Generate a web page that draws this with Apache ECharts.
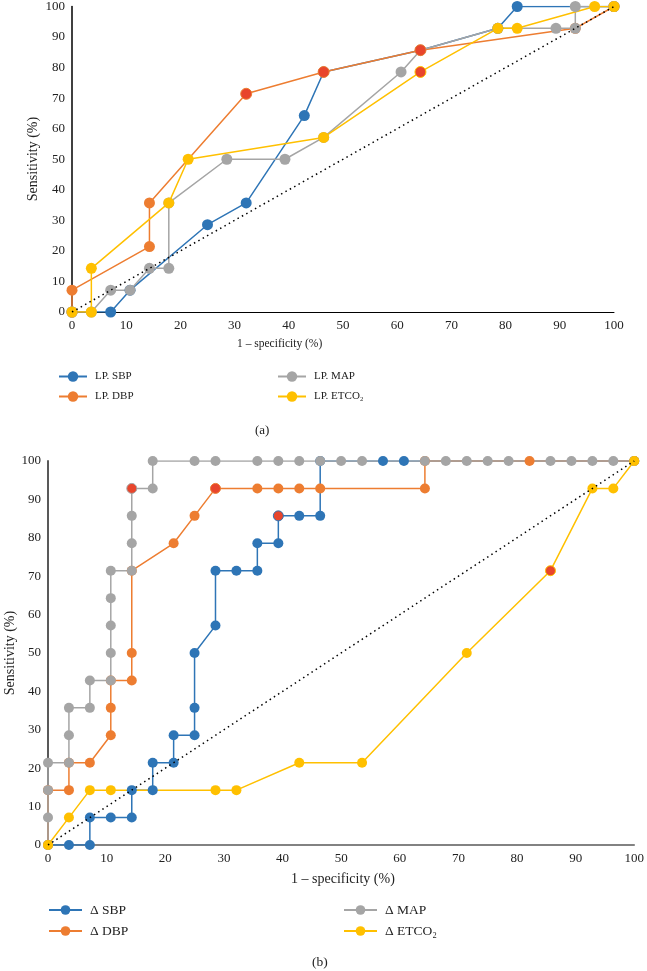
<!DOCTYPE html>
<html><head><meta charset="utf-8">
<script src="https://cdn.jsdelivr.net/npm/echarts/dist/echarts.min.js"></script>
<style>html,body{margin:0;padding:0;background:#fff}#c{width:647px;height:971px}</style>
</head><body><div id="c"></div>
<script>
// ---- Data (a) ----
const aSbpX = [0, 7.14, 10.71, 25, 32.14, 42.86, 46.43, 64.29, 78.57, 82.14, 100];
const aSbpY = [0, 0, 7.14, 28.57, 35.71, 64.29, 78.57, 85.71, 92.86, 100, 100];
const aDbpX = [0, 0, 14.29, 14.29, 32.14, 46.43, 64.29, 92.86, 100];
const aDbpY = [0, 7.14, 21.43, 35.71, 71.43, 78.57, 85.71, 92.86, 100];
const aMapX = [0, 3.57, 7.14, 10.71, 14.29, 17.86, 17.86, 28.57, 39.29, 46.43, 60.71, 64.29, 78.57, 89.29, 92.86, 92.86, 100];
const aMapY = [0, 0, 7.14, 7.14, 14.29, 14.29, 35.71, 50, 50, 57.14, 78.57, 85.71, 92.86, 92.86, 92.86, 100, 100];
const aEtX = [0, 3.57, 3.57, 17.86, 21.43, 46.43, 64.29, 78.57, 82.14, 96.43, 100];
const aEtY = [0, 0, 14.29, 35.71, 50, 57.14, 78.57, 92.86, 92.86, 100, 100];
// ---- Data (b) ----
const bSbpX = [0, 3.57, 7.14, 7.14, 10.71, 14.29, 14.29, 17.86, 17.86, 21.43, 21.43, 25, 25, 25, 28.57, 28.57, 32.14, 35.71, 35.71, 39.29, 39.29, 42.86, 46.43, 46.43, 57.14, 60.71, 100];
const bSbpY = [0, 0, 0, 7.14, 7.14, 7.14, 14.29, 14.29, 21.43, 21.43, 28.57, 28.57, 35.71, 50, 57.14, 71.43, 71.43, 71.43, 78.57, 78.57, 85.71, 85.71, 85.71, 100, 100, 100, 100];
const bDbpX = [0, 0, 3.57, 3.57, 7.14, 10.71, 10.71, 10.71, 14.29, 14.29, 14.29, 21.43, 25, 28.57, 35.71, 39.29, 42.86, 46.43, 64.29, 64.29, 82.14, 100];
const bDbpY = [0, 14.29, 14.29, 21.43, 21.43, 28.57, 35.71, 42.86, 42.86, 50, 71.43, 78.57, 85.71, 92.86, 92.86, 92.86, 92.86, 92.86, 92.86, 100, 100, 100];
const bMapX = [0, 0, 0, 0, 3.57, 3.57, 3.57, 7.14, 7.14, 10.71, 10.71, 10.71, 10.71, 10.71, 14.29, 14.29, 14.29, 14.29, 17.86, 17.86, 25, 28.57, 35.71, 39.29, 42.86, 46.43, 50, 53.57, 64.29, 67.86, 71.43, 75, 78.57, 85.71, 89.29, 92.86, 96.43, 100];
const bMapY = [0, 7.14, 14.29, 21.43, 21.43, 28.57, 35.71, 35.71, 42.86, 42.86, 50, 57.14, 64.29, 71.43, 71.43, 78.57, 85.71, 92.86, 92.86, 100, 100, 100, 100, 100, 100, 100, 100, 100, 100, 100, 100, 100, 100, 100, 100, 100, 100, 100];
const bEtX = [0, 3.57, 7.14, 10.71, 28.57, 32.14, 42.86, 53.57, 71.43, 85.71, 92.86, 96.43, 100];
const bEtY = [0, 7.14, 14.29, 14.29, 14.29, 14.29, 21.43, 21.43, 50, 71.43, 92.86, 92.86, 100];
const diagX = [0, 100];
const diagY = [0, 100];
// highlighted (red-filled) markers, by point index
const aDbpRed = [4, 5, 6], aEtRed = [6], aMapHidden = [11];
const bSbpRed = [20], bDbpRed = [13], bMapRed = [17], bEtRed = [9];

const FONT = 'Liberation Serif';
const C_BLUE = '#2E75B6', C_ORANGE = '#ED7D31', C_GRAY = '#A5A5A5', C_YELLOW = '#FFC000', C_RED = '#E8452C';

function pts(xs, ys, red, hidden, base) {
  return xs.map((x, i) => {
    const d = { value: [x, ys[i]] };
    if (red && red.includes(i)) d.itemStyle = { color: C_RED, borderColor: base, borderWidth: 1 };
    if (hidden && hidden.includes(i)) d.symbol = 'none';
    return d;
  });
}
function line(name, xs, ys, color, gi, size, red, hidden) {
  return {
    name, type: 'line', xAxisIndex: gi, yAxisIndex: gi,
    data: pts(xs, ys, red, hidden, color),
    symbol: 'circle', symbolSize: size, showSymbol: true,
    lineStyle: { color, width: 1.5 }, itemStyle: { color },
    animation: false, z: 2
  };
}
function diag(gi) {
  return {
    type: 'line', xAxisIndex: gi, yAxisIndex: gi, data: pts(diagX, diagY),
    symbol: 'none', lineStyle: { color: '#000', width: 1.5, type: [1.5, 3.5] },
    animation: false, z: 5, silent: true
  };
}
function xAx(gi, fs, lc, lw) {
  return { gridIndex: gi, type: 'value', min: 0, max: 100, interval: 10,
    axisLine: { show: true, lineStyle: { color: lc, width: lw } }, axisTick: { show: false },
    splitLine: { show: false }, axisLabel: { margin: 7, fontFamily: FONT, fontSize: fs, color: '#222' } };
}
function yAx(gi, fs, lc, lw) {
  return { gridIndex: gi, type: 'value', min: 0, max: 100, interval: 10,
    axisLine: { show: true, lineStyle: { color: lc, width: lw } }, axisTick: { show: false },
    splitLine: { show: false }, axisLabel: { margin: 7, fontFamily: FONT, fontSize: fs, color: '#222' } };
}
function legend(names, left, top, iw, ih, gap, fs) {
  return { data: names, orient: 'vertical', left, top, padding: 0, itemWidth: iw, itemHeight: ih, itemGap: gap,
    textStyle: { fontFamily: FONT, fontSize: fs, color: '#222', padding: [0, 0, 0, 3] }, selectedMode: false };
}
function vName(x, y) {
  return { type: 'text', x, y, rotation: Math.PI / 2,
    style: { text: 'Sensitivity (%)', font: '14px "Liberation Serif"', fill: '#222', align: 'center', verticalAlign: 'middle' } };
}

const chart = echarts.init(document.getElementById('c'));
chart.setOption({
  backgroundColor: '#fff',
  grid: [
    { left: 72, top: 6, width: 542, height: 306 },
    { left: 48, top: 461, width: 589, height: 384 }
  ],
  xAxis: [xAx(0, 13, '#000', 1), xAx(1, 13, '#595959', 1.5)],
  yAxis: [yAx(0, 13, '#000', 1.5), yAx(1, 13, '#595959', 2)],
  legend: [
    legend(['LP. SBP', 'LP. DBP'], 58, 371, 28, 13, 9, 11),
    legend(['LP. MAP', 'LP. ETCO₂'], 277, 371, 28, 13, 9, 11),
    legend(['Δ SBP', 'Δ DBP'], 48, 903, 33, 12, 7, 13.5),
    legend(['Δ MAP', 'Δ ETCO₂'], 343, 903, 33, 12, 7, 13.5)
  ],
  graphic: [
    vName(33, 159),
    vName(10, 653),
    { type: 'text', left: 237, top: 338, style: { text: '1 – specificity (%)', font: '11.5px "Liberation Serif"', fill: '#222' } },
    { type: 'text', left: 255, top: 424, style: { text: '(a)', font: '13px "Liberation Serif"', fill: '#222' } },
    { type: 'text', left: 291, top: 872, style: { text: '1 – specificity (%)', font: '14px "Liberation Serif"', fill: '#222' } },
    { type: 'text', left: 312, top: 955, style: { text: '(b)', font: '13.5px "Liberation Serif"', fill: '#222' } }
  ],
  series: [
    line('LP. SBP', aSbpX, aSbpY, C_BLUE, 0, 11),
    line('LP. DBP', aDbpX, aDbpY, C_ORANGE, 0, 11, aDbpRed),
    line('LP. MAP', aMapX, aMapY, C_GRAY, 0, 11, null, aMapHidden),
    line('LP. ETCO₂', aEtX, aEtY, C_YELLOW, 0, 11, aEtRed),
    diag(0),
    line('Δ SBP', bSbpX, bSbpY, C_BLUE, 1, 10, bSbpRed),
    line('Δ DBP', bDbpX, bDbpY, C_ORANGE, 1, 10, bDbpRed),
    line('Δ MAP', bMapX, bMapY, C_GRAY, 1, 10, bMapRed),
    line('Δ ETCO₂', bEtX, bEtY, C_YELLOW, 1, 10, bEtRed),
    diag(1)
  ]
});
</script></body></html>
